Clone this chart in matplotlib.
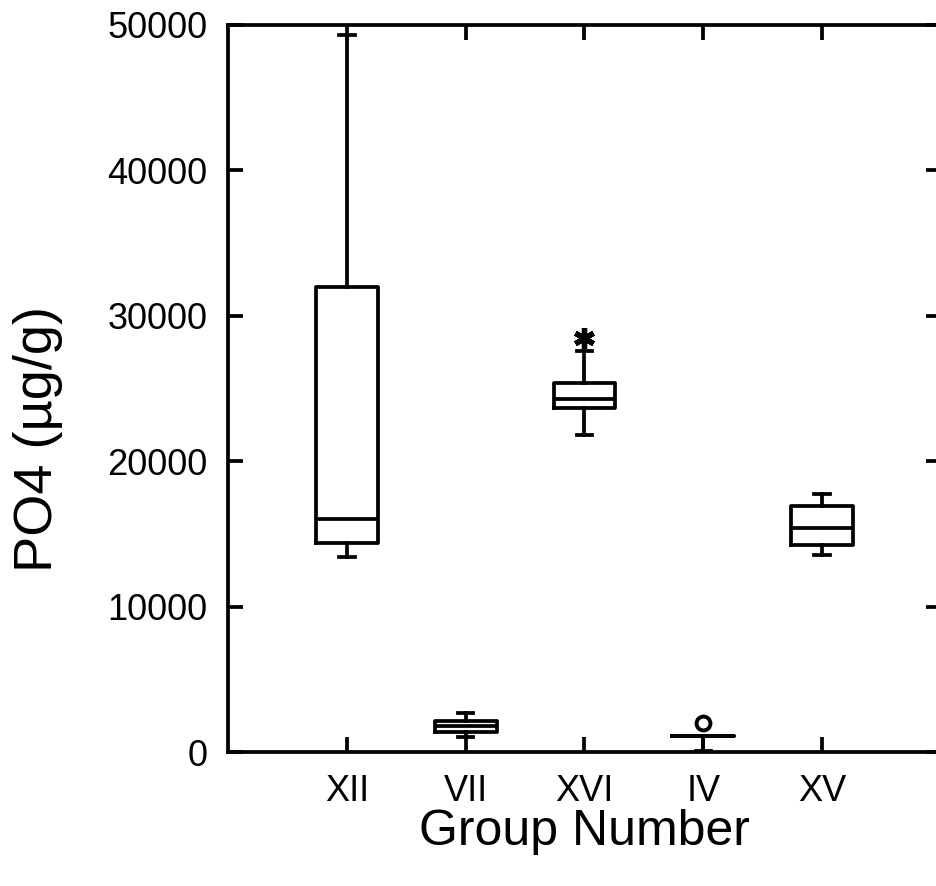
import matplotlib
matplotlib.use("Agg")
import matplotlib.pyplot as plt

plt.rcParams['font.family'] = ['Liberation Sans', 'DejaVu Sans']

groups = ['XII', 'VII', 'XVI', 'IV', 'XV']
whis_lo = [13400, 1030, 21800, 100, 13550]
q1 = [14370, 1380, 23660, 1100, 14240]
medians = [16000, 1790, 24280, 1100, 15400]
q3 = [32000, 2130, 25380, 1100, 16920]
whis_hi = [49300, 2680, 27580, 1100, 17740]
outliers = [[], [], [28500], [2000], []]
outlier_marks = ['', '', 'star', 'circle', '']

stats = []
for i, g in enumerate(groups):
    stats.append(dict(label=g, whislo=whis_lo[i], q1=q1[i], med=medians[i],
                      q3=q3[i], whishi=whis_hi[i], fliers=outliers[i]))

fig = plt.figure(figsize=(9.36, 8.86), dpi=100)
ax = fig.add_axes([0.2436, 0.1512, 0.7617, 0.8206])

lw = 2.7
res = ax.bxp(stats, positions=range(1, 6), widths=0.52, capwidths=0.13,
             boxprops=dict(color='black', linewidth=lw),
             medianprops=dict(color='black', linewidth=lw),
             whiskerprops=dict(color='black', linewidth=lw),
             capprops=dict(color='black', linewidth=lw),
             flierprops=dict(marker='o', markerfacecolor='none',
                             markeredgecolor='black', markersize=10,
                             markeredgewidth=2.8))

for fl, kind in zip(res['fliers'], outlier_marks):
    if kind == 'star':
        fl.set_marker((6, 2, 0))
        fl.set_markersize(15)
        fl.set_markeredgewidth(3.8)
    elif kind == 'circle':
        fl.set_marker('o')
        fl.set_markersize(10)

ax.set_xlim(0, 6)
ax.set_ylim(0, 50000)
ax.set_yticks([0, 10000, 20000, 30000, 40000, 50000])
ax.set_xticks(range(1, 6))
ax.set_xticklabels(groups)

for s in ax.spines.values():
    s.set_linewidth(2.7)

ax.tick_params(direction='in', length=11, width=2.7, labelsize=26,
               top=True, right=True)
ax.tick_params(axis='x', pad=16)
ax.tick_params(axis='y', pad=15)
ax.set_xlabel('Group Number', fontsize=36, labelpad=0)
ax.set_ylabel('PO4 (µg/g)', fontsize=39)
ax.yaxis.set_label_coords(-0.231, 0.43)

fig.savefig('out.png', dpi=100)
